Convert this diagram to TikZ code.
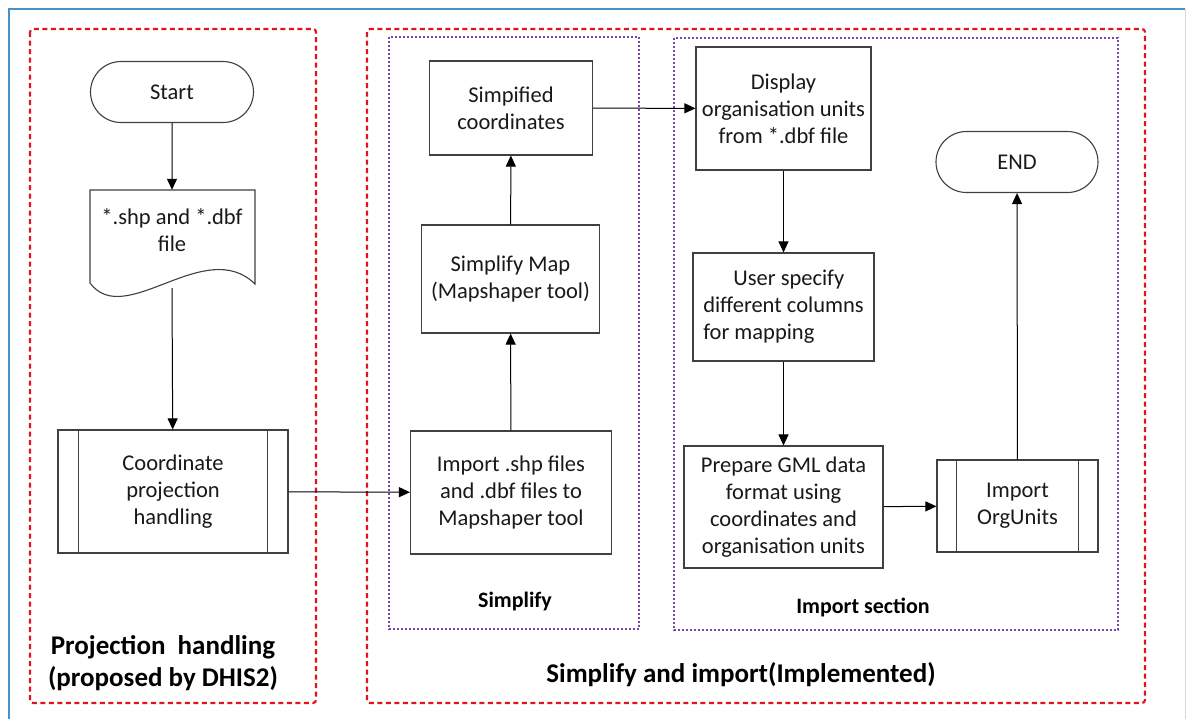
\documentclass[tikz,border=0pt]{standalone}
\usepackage{fontspec}
\setmainfont{Carlito}
\usetikzlibrary{arrows.meta,shapes.misc}
\definecolor{redd}{RGB}{225,20,30}
\definecolor{purp}{RGB}{120,70,170}
\definecolor{frameblue}{RGB}{70,145,200}
\definecolor{txt}{RGB}{25,25,25}
\tikzset{
  body/.style={font=\fontsize{22.5}{27}\selectfont, text=txt, align=center, inner sep=0pt},
  procbox/.style={body, draw=black!75, line width=1.1pt},
  termbox/.style={body, draw=black!75, line width=1.1pt, rounded rectangle},
  redbox/.style={draw=redd, line width=2.2pt, dash pattern=on 5pt off 3.5pt, rounded corners=3pt},
  purbox/.style={draw=purp, line width=1.3pt, dash pattern=on 2pt off 2pt},
  flow/.style={draw=black, line width=1pt, -{Triangle[length=11pt,width=10pt]}},
  biglabel/.style={font=\fontsize{27}{32.5}\selectfont\bfseries, text=black, align=center},
  smalllabel/.style={font=\fontsize{22}{24}\selectfont\bfseries, text=black},
}
\begin{document}
\begin{tikzpicture}[x=1pt,y=-1pt]
\useasboundingbox (0,0) rectangle (1189,718);
\fill[white] (0,0) rectangle (1189,718);
% outer frame
\draw[frameblue, line width=2pt] (9,730) -- (9,9) -- (1185,9);
\draw[black!15, line width=1pt] (1185,9) -- (1185,730);
% group boxes
\draw[redbox] (30,29) rectangle (316,703);
\draw[redbox] (367,29) rectangle (1145,703);
\draw[purbox] (389,37) rectangle (639,629);
\draw[purbox] (674,38) rectangle (1118,630);
% labels
\node[biglabel] (lab1) at (163,663) {Projection\ \ handling\\(proposed by DHIS2)};
\node[biglabel] (lab2) at (741,675) {Simplify and import(Implemented)};
\node[smalllabel] (lab3) at (515,602) {Simplify};
\node[smalllabel] (lab4) at (863,607) {Import section};
% nodes
\node[termbox, minimum width=163pt, minimum height=61pt] (start) at (172,92) {Start};
\node[body, minimum width=165pt, minimum height=80pt] (doc) at (172,230) {*.shp and *.dbf\\file};
\draw[draw=black!75, line width=1.1pt] (90,190) -- (255,190) -- (255,284)
   .. controls (205,235) and (125,330) .. (90,283) -- cycle;
\coordinate (docb) at (172,288);
\node[procbox, minimum width=230pt, minimum height=123pt] (coord) at (173,491.5) {Coordinate\\projection\\handling};
\draw[black!75, line width=1.1pt] ([xshift=21pt]coord.north west) -- ([xshift=21pt]coord.south west);
\draw[black!75, line width=1.1pt] ([xshift=-21pt]coord.north east) -- ([xshift=-21pt]coord.south east);
\node[procbox, minimum width=201pt, minimum height=123pt] (imp) at (511,492.5) {Import .shp files\\and .dbf files to\\Mapshaper tool};
\node[procbox, minimum width=178pt, minimum height=108pt] (smap) at (510.5,279) {Simplify Map\\(Mapshaper tool)};
\node[procbox, minimum width=163pt, minimum height=94pt] (scoord) at (511,108) {Simpified\\coordinates};
\node[procbox, minimum width=175pt, minimum height=123pt] (disp) at (783.5,108.5) {Display\\organisation units\\from *.dbf file};
\node[procbox, minimum width=181pt, minimum height=108pt, align=left] (user) at (783.5,307) {\hphantom{diff}User specify\\different columns\\for mapping};
\node[procbox, minimum width=199pt, minimum height=122pt] (prep) at (783.5,507) {Prepare GML data\\format using\\coordinates and\\organisation units};
\node[procbox, minimum width=161pt, minimum height=92pt] (orgu) at (1017.5,506) {Import\\OrgUnits};
\draw[black!75, line width=1.1pt] ([xshift=20pt]orgu.north west) -- ([xshift=20pt]orgu.south west);
\draw[black!75, line width=1.1pt] ([xshift=-20pt]orgu.north east) -- ([xshift=-20pt]orgu.south east);
\node[termbox, minimum width=162pt, minimum height=61pt] (end) at (1017,162) {END};
% connectors
\draw[flow] (start) -- (doc.north);
\draw[flow] (docb) -- (coord);
\draw[flow] (coord) -- (imp);
\draw[flow] (imp) -- (smap);
\draw[flow] (smap) -- (scoord);
\draw[flow] (scoord) -- (disp);
\draw[flow] (disp) -- (user);
\draw[flow] (user) -- (prep);
\draw[flow] (prep) -- (orgu);
\draw[flow] (orgu) -- (end);
\end{tikzpicture}
\end{document}
